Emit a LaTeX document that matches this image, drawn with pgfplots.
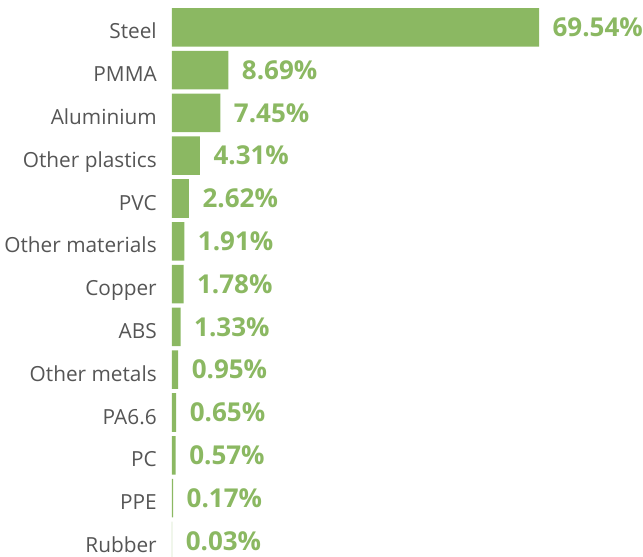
\documentclass[border=0pt]{standalone}
\usepackage{pgfplots}
\pgfplotsset{compat=1.18}
\usepackage{pgfplotstable}
\usepackage{fontspec}
\setmainfont{Open Sans}
\definecolor{bargreen}{HTML}{8BB862}
\definecolor{labgray}{HTML}{555555}
\pgfplotstableread{
idx value
0 69.54
1 8.69
2 7.45
3 4.31
4 2.62
5 1.91
6 1.78
7 1.33
8 0.95
9 0.65
10 0.57
11 0.17
12 0.03
}\shares
\begin{document}
\begin{tikzpicture}
\useasboundingbox (-129pt,3.975pt) rectangle (353.25pt,421.725pt);
\begin{axis}[
  xbar, scale only axis,
  width=275.25pt, height=417.3pt,
  xmin=0, xmax=56.6,
  ymin=-0.5, ymax=12.5, y dir=reverse,
  bar width=0.9, bar shift=0pt,
  axis line style={draw=none}, tick style={draw=none},
  xtick=\empty,
  ytick={0,...,12},
  yticklabels={Steel,PMMA,Aluminium,Other plastics,PVC,Other materials,Copper,ABS,Other metals,PA6.6,PC,PPE,Rubber},
  yticklabel style={font=\fontsize{15.6pt}{17pt}\selectfont, text=labgray, anchor=base east, inner sep=0pt, xshift=-7pt, yshift=-8.7pt},
  x filter/.expression={min(x,56.6)},
  point meta=explicit,
  /pgf/number format/assume math mode=true,
  nodes near coords={\pgfmathprintnumber[fixed,fixed zerofill,precision=2,assume math mode=true]{\pgfplotspointmeta}\%},
  every node near coord/.append style={anchor=west, inner sep=0pt, xshift=10pt, font=\fontsize{19.5pt}{21pt}\bfseries\selectfont, text=bargreen},
  clip=false,
]
\addplot[fill=bargreen, draw=none] table[x=value, y=idx, meta=value] {\shares};
\end{axis}
\end{tikzpicture}
\end{document}
